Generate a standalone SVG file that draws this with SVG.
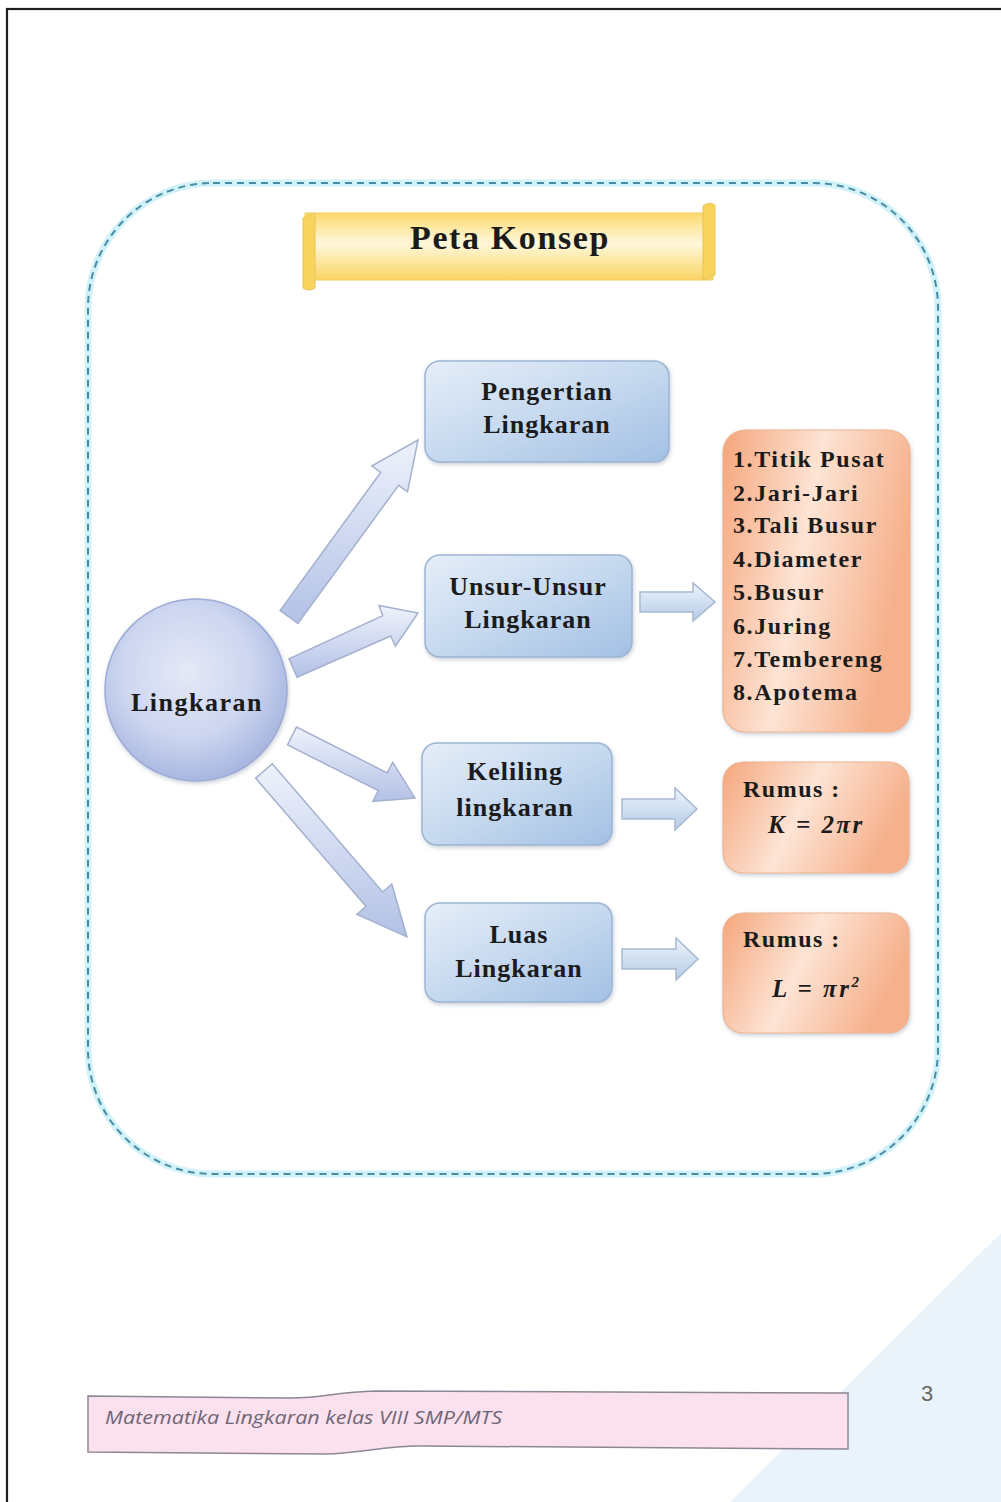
<svg xmlns="http://www.w3.org/2000/svg" width="1001" height="1502" viewBox="0 0 1001 1502">
<defs>
<linearGradient id="gBlue" x1="0" y1="0" x2="1" y2="1">
<stop offset="0" stop-color="#e6eef9"/>
<stop offset="0.5" stop-color="#c6d9ef"/>
<stop offset="1" stop-color="#a2c0e4"/>
</linearGradient>
<radialGradient id="gCircle" cx="0.45" cy="0.4" r="0.6">
<stop offset="0" stop-color="#e5e9f7"/>
<stop offset="0.6" stop-color="#cdd6f0"/>
<stop offset="1" stop-color="#a8b7e1"/>
</radialGradient>
<linearGradient id="gOrange" x1="0" y1="0" x2="1" y2="0.3">
<stop offset="0" stop-color="#f5a57b"/>
<stop offset="0.5" stop-color="#fde4d5"/>
<stop offset="1" stop-color="#f6b08b"/>
</linearGradient>
<linearGradient id="gYellow" x1="0" y1="0" x2="0" y2="1">
<stop offset="0" stop-color="#fbd96c"/>
<stop offset="0.45" stop-color="#fff8dc"/>
<stop offset="1" stop-color="#f9d463"/>
</linearGradient>
<linearGradient id="gArrow" x1="0" y1="0" x2="0" y2="1">
<stop offset="0" stop-color="#eef2fb"/>
<stop offset="1" stop-color="#b3c1e6"/>
</linearGradient>
<linearGradient id="gArrowH" x1="0" y1="0" x2="0" y2="1">
<stop offset="0" stop-color="#eef4fb"/>
<stop offset="1" stop-color="#b4cbe7"/>
</linearGradient>
<filter id="sh" x="-20%" y="-20%" width="140%" height="140%">
<feDropShadow dx="1" dy="2" stdDeviation="2" flood-color="#8a96aa" flood-opacity="0.45"/>
</filter>
</defs>
<style>
.t{font-family:"Liberation Serif","Times New Roman",serif;font-weight:bold;fill:#1b1b1b;}
.bx{fill:url(#gBlue);stroke:#9db5d3;stroke-width:1.5;filter:url(#sh);}
.ob{fill:url(#gOrange);stroke:#eeb592;stroke-width:1.2;filter:url(#sh);}
.ar{fill:url(#gArrow);stroke:#a4b1cf;stroke-width:1.5;}
.ah{fill:url(#gArrowH);stroke:#a7b9d2;stroke-width:1.5;}
</style>
<rect x="0" y="0" width="1001" height="1502" fill="#ffffff"/>
<polygon points="1001,1233 1001,1502 730,1502" fill="#e9f3f9"/>
<rect x="7" y="9" width="1010" height="1510" fill="none" stroke="#1e1e1e" stroke-width="2.2"/>

<g id="frame">
<rect x="88" y="183" width="850" height="991" rx="125" ry="125" fill="none" stroke="#d2f2f9" stroke-width="7"/>
<rect x="88" y="183" width="850" height="991" rx="125" ry="125" fill="none" stroke="#4a8ca3" stroke-width="2" stroke-dasharray="7 5"/>
</g>

<g id="title">
<path d="M305,213 L713,213 L713,280 L305,280 Z" fill="url(#gYellow)" stroke="#f0cc5c" stroke-width="1"/>
<path d="M703,213 L703,206 Q709,201 715,205 L715,275 L703,280 Z" fill="#f8d35e" stroke="#e9c455" stroke-width="1"/>
<path d="M303,218 L315,213 L315,288 Q309,292 303,288 Z" fill="#f8d35e" stroke="#e9c455" stroke-width="1"/>
<text class="t" x="510" y="249" font-size="34" letter-spacing="1.6" text-anchor="middle">Peta Konsep</text>
</g>

<g id="connectors">
<polygon class="ar" points="297.9,623.5 398.6,485.3 407.5,491.8 418,440 371.9,465.8 380.8,472.3 280.1,610.5"/>
<polygon class="ar" points="297,677.2 390.7,636 395.4,646.2 418,613 379,605.4 382.7,615.7 289,658.9"/>
<polygon class="ar" points="287.5,744.9 378.3,790.7 372.9,801.5 415,798 392.7,762.2 387.3,772.9 296.5,727.1"/>
<polygon class="ar" points="255.7,778.2 366.1,906.4 357,914.2 407,937 391.8,884.2 382.7,892 272.3,763.8"/>
<path class="ah" d="M640,592 L693,592 L693,583 L715,602 L693,621 L693,612 L640,612 Z"/>
<path class="ah" d="M622,799 L675,799 L675,788 L697,809 L675,830 L675,819 L622,819 Z"/>
<path class="ah" d="M622,949 L676,949 L676,938 L698,959 L676,980 L676,969 L622,969 Z"/>
</g>

<g id="lingkaran">
<circle cx="196" cy="690" r="91" fill="url(#gCircle)" stroke="#9eabd6" stroke-width="1.5" filter="url(#sh)"/>
<text class="t" x="197" y="711" font-size="26" letter-spacing="1.5" text-anchor="middle">Lingkaran</text>
</g>

<g id="pengertian">
<rect class="bx" x="425" y="361" width="244" height="101" rx="15"/>
<text class="t" x="547" y="400" font-size="26" letter-spacing="1" text-anchor="middle">Pengertian</text>
<text class="t" x="547" y="433" font-size="26" letter-spacing="1" text-anchor="middle">Lingkaran</text>
</g>

<g id="unsur">
<rect class="bx" x="425" y="555" width="207" height="102" rx="15"/>
<text class="t" x="528" y="595" font-size="26" letter-spacing="1" text-anchor="middle">Unsur-Unsur</text>
<text class="t" x="528" y="628" font-size="26" letter-spacing="1" text-anchor="middle">Lingkaran</text>
</g>

<g id="keliling">
<rect class="bx" x="422" y="743" width="190" height="102" rx="15"/>
<text class="t" x="515" y="780" font-size="26" letter-spacing="1" text-anchor="middle">Keliling</text>
<text class="t" x="515" y="816" font-size="26" letter-spacing="1" text-anchor="middle">lingkaran</text>
</g>

<g id="luas">
<rect class="bx" x="425" y="903" width="187" height="99" rx="15"/>
<text class="t" x="519" y="943" font-size="26" letter-spacing="1" text-anchor="middle">Luas</text>
<text class="t" x="519" y="977" font-size="26" letter-spacing="1" text-anchor="middle">Lingkaran</text>
</g>

<g id="unsur-list">
<rect class="ob" x="723" y="430" width="187" height="302" rx="22"/>
<g class="t" font-size="24" letter-spacing="1.6">
<text x="733" y="467">1.Titik Pusat</text>
<text x="733" y="501">2.Jari-Jari</text>
<text x="733" y="533">3.Tali Busur</text>
<text x="733" y="567">4.Diameter</text>
<text x="733" y="600">5.Busur</text>
<text x="733" y="634">6.Juring</text>
<text x="733" y="667">7.Tembereng</text>
<text x="733" y="700">8.Apotema</text>
</g>
</g>

<g id="rumus-k">
<rect class="ob" x="723" y="762" width="186" height="111" rx="20"/>
<text class="t" x="743" y="797" font-size="24" letter-spacing="1.5">Rumus :</text>
<text class="t" x="768" y="833" font-size="25" font-style="italic" letter-spacing="2.5">K = 2πr</text>
</g>

<g id="rumus-l">
<rect class="ob" x="723" y="913" width="186" height="120" rx="20"/>
<text class="t" x="743" y="947" font-size="24" letter-spacing="1.5">Rumus :</text>
<text class="t" x="772" y="997" font-size="25" font-style="italic" letter-spacing="2.5">L = πr<tspan font-size="15" dy="-10">2</tspan></text>
</g>

<g id="footer">
<path d="M88,1396 L290,1398 C325,1398 335,1392 375,1391 L848,1393 L848,1449 L420,1446 C380,1446 365,1453 325,1454 L88,1452 Z" fill="#fbe0ee" stroke="#8d8795" stroke-width="1.5"/>
<text x="105" y="1424" font-family="'Open Sans','Noto Sans',sans-serif" font-style="italic" font-size="17.5" fill="#6f6675" textLength="397" lengthAdjust="spacingAndGlyphs">Matematika Lingkaran kelas VIII SMP/MTS</text>
<text x="927" y="1401" font-family="'Liberation Sans',Arial,sans-serif" font-size="22" fill="#666" text-anchor="middle">3</text>
</g>
</svg>
